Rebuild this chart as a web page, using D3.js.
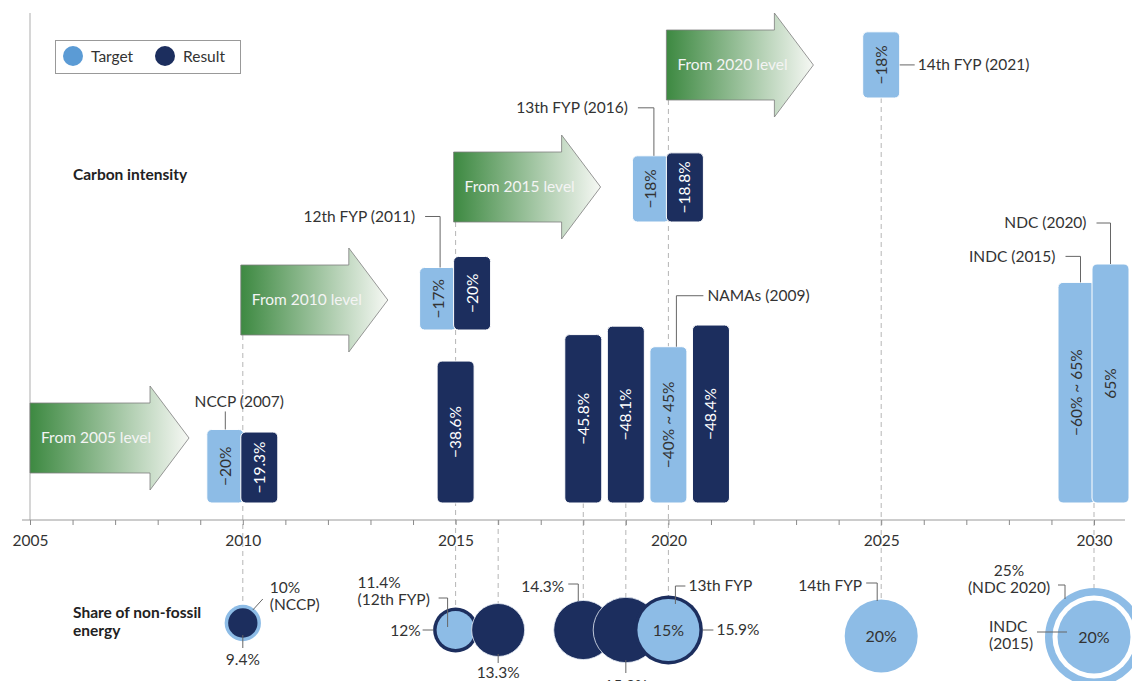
<!DOCTYPE html>
<html>
<head>
<meta charset="utf-8">
<script src="https://cdn.jsdelivr.net/npm/d3@7"></script>
<style>
  body { margin: 0; background: #fff; }
  text { font-family: Lato, "Open Sans", sans-serif; }
</style>
</head>
<body>
<script>
// --- carbon intensity bars ---
var ciYears  = [2010, 2010, 2015, 2015, 2015, 2018, 2019, 2020, 2021, 2020, 2020, 2025, 2030, 2030];
var ciSides  = ['left', 'right', 'left', 'right', 'mid', 'mid', 'mid', 'mid', 'mid', 'left', 'right', 'mid', 'left', 'right'];
var ciTiers  = [0, 0, 1, 1, 0, 0, 0, 0, 0, 2, 2, 3, 0, 0];
var ciTypes  = ['target', 'result', 'target', 'result', 'result', 'result', 'result', 'target', 'result', 'target', 'result', 'target', 'target', 'target'];
var ciValues = [20, 19.3, 17, 20, 38.6, 45.8, 48.1, 42.5, 48.4, 18, 18.8, 18, 60, 65];
var ciLabels = ['\u221220%', '\u221219.3%', '\u221217%', '\u221220%', '\u221238.6%', '\u221245.8%', '\u221248.1%', '\u221240% ~ 45%', '\u221248.4%', '\u221218%', '\u221218.8%', '\u221218%', '\u221260% ~ 65%', '65%'];

// policy names attached to bars
var noteBars  = [0, 2, 9, 11, 7, 12, 13];
var noteTexts = ['NCCP (2007)', '12th FYP (2011)', '13th FYP (2016)', '14th FYP (2021)', 'NAMAs (2009)', 'INDC (2015)', 'NDC (2020)'];

// "from ... level" arrows
var arrowYears  = [2005, 2010, 2015, 2020];
var arrowLabels = ['From 2005 level', 'From 2010 level', 'From 2015 level', 'From 2020 level'];

// --- share of non-fossil energy (%) ---
var nfYears  = [2010, 2010, 2015, 2015, 2016, 2018, 2019, 2020, 2020, 2025, 2030, 2030];
var nfValues = [10, 9.4, 12, 11.4, 13.3, 14.3, 15.3, 15.9, 15, 20, 25, 20];
var nfTypes  = ['target', 'result', 'result', 'target', 'result', 'result', 'result', 'result', 'target', 'target', 'target', 'target'];
var nfInside = ['', '', '', '', '', '', '', '', '15%', '20%', '', '20%'];

var W = 1132, H = 681;
var navy = '#1c2e5e', light = '#8dbce6', legendBlue = '#5b9bd5', ink = '#333';
var fs = '15.5px';

var svg = d3.select('body').append('svg').attr('width', W).attr('height', H);

var defs = svg.append('defs');
var grad = defs.append('linearGradient').attr('id', 'arrowGrad');
grad.append('stop').attr('offset', '0%').attr('stop-color', '#3d8941');
grad.append('stop').attr('offset', '100%').attr('stop-color', '#f6f8f4');

// scales
var x = d3.scaleLinear().domain([2005, 2030]).range([30, 1094]);
var h = d3.scaleLinear().domain([0, 65]).range([0, 239]);
var r = d3.scaleLinear().domain([9, 12, 15.9, 20, 25]).range([16, 22.5, 34.5, 36.5, 49]);

var axisY = 520;
var tierBase = [503, 330, 222, 98];
var arrowBottom = [473, 335, 222, 100];
var arrowLen = [120, 108, 108, 108];
var barW = 37;
var rowY = function(yr) { return yr === 2010 ? 623 : yr === 2025 ? 636 : yr === 2030 ? 637 : 630; };

// build bar rows
var bars = ciValues.map(function(v, i) {
  var cx = x(ciYears[i]);
  var x0 = ciSides[i] === 'left' ? cx - 36 : ciSides[i] === 'right' ? cx - 2 : cx - barW / 2;
  var base = tierBase[ciTiers[i]];
  return {x0: x0, x1: x0 + barW, top: base - h(v), bottom: base, type: ciTypes[i], label: ciLabels[i]};
});

// circle groups
var groups = d3.groups(nfValues.map(function(v, i) {
  return {year: nfYears[i], value: v, type: nfTypes[i], inside: nfInside[i]};
}), function(d) { return d.year; });

groups.forEach(function(g) {
  var items = g[1];
  items.sort(function(a, b) { return b.value - a.value; });
  items[0].r = r(items[0].value);
  if (items[1]) items[1].r = Math.min(r(items[1].value), items[0].r - 3.5);
  g.cx = x(g[0]);
  g.cy = rowY(g[0]);
  g.rMax = items[0].r;
});

// vertical axis line
svg.append('line').attr('x1', 30).attr('x2', 30).attr('y1', 13).attr('y2', axisY)
  .attr('stroke', '#c8c8c8').attr('stroke-width', 1.5);

// dashed guides
var guideYears = [2010, 2015, 2016, 2018, 2019, 2020, 2025, 2030];
guideYears.forEach(function(yr) {
  var ai = arrowYears.indexOf(yr);
  var hasBar = ciYears.indexOf(yr) >= 0;
  var top = hasBar ? 503 : axisY;
  if (ai >= 0) top = arrowBottom[ai];
  else {
    bars.forEach(function(b, i) { if (ciYears[i] === yr && ciTiers[i] > 0) top = Math.min(top, b.bottom); });
  }
  var g = groups.find(function(d) { return d[0] === yr; });
  svg.append('line').attr('x1', x(yr)).attr('x2', x(yr)).attr('y1', top).attr('y2', g ? g.cy - g.rMax + 2 : axisY)
    .attr('stroke', '#b5b5b5').attr('stroke-dasharray', '5,4').attr('stroke-width', 1);
});

// axis
svg.append('line').attr('x1', 22).attr('x2', 1125).attr('y1', axisY).attr('y2', axisY)
  .attr('stroke', '#9a9a9a').attr('stroke-width', 1);
var axis = svg.append('g').attr('transform', 'translate(0,' + axisY + ')')
  .call(d3.axisBottom(x).tickValues(d3.range(2005, 2031)).tickSize(5)
    .tickFormat(function(d) { return d % 5 === 0 ? d : ''; }));
axis.select('.domain').remove();
axis.selectAll('line').attr('stroke', '#8a8a8a');
axis.selectAll('text').attr('y', 15).attr('fill', ink).style('font-size', fs).style('font-family', 'Lato, sans-serif');

// arrows
arrowYears.forEach(function(yr, i) {
  var x0 = x(yr) - (i === 0 ? 0 : 2), yb = arrowBottom[i], yt = yb - 70, yc = yb - 35, L = arrowLen[i];
  var p = d3.path();
  p.moveTo(x0, yt); p.lineTo(x0 + L, yt); p.lineTo(x0 + L, yt - 17); p.lineTo(x0 + L + 39, yc);
  p.lineTo(x0 + L, yb + 17); p.lineTo(x0 + L, yb); p.lineTo(x0, yb); p.closePath();
  svg.append('path').attr('d', p.toString()).attr('fill', 'url(#arrowGrad)')
    .attr('stroke', '#7d7d7d').attr('stroke-width', 0.8);
  svg.append('text').attr('x', x0 + 11).attr('y', yc).attr('dy', '0.35em')
    .attr('fill', '#f4f4f4').style('font-size', fs).text(arrowLabels[i]);
});

// bars
var barG = svg.append('g');
bars.forEach(function(b) {
  barG.append('rect').attr('x', b.x0).attr('y', b.top).attr('width', barW).attr('height', b.bottom - b.top)
    .attr('rx', 5).attr('fill', b.type === 'target' ? light : navy)
    .attr('stroke', '#fff').attr('stroke-width', 1);
  var cx = (b.x0 + b.x1) / 2, cy = (b.top + b.bottom) / 2;
  barG.append('text').attr('transform', 'translate(' + cx + ',' + cy + ') rotate(-90)')
    .attr('text-anchor', 'middle').attr('dy', '0.35em')
    .attr('fill', b.type === 'target' ? ink : '#fff').style('font-size', fs).text(b.label);
});

// bar notes
var noteKinds = ['up', 'left', 'left', 'side', 'right', 'left', 'left'];
var noteDx    = [0, 2, 3, 0, 8, 4, 0];
var noteRise  = [18, 51, 48, 0, 51, 26, 41];
var noteLen   = [0, 15, 16, 15, 27, 15, 14];
noteBars.forEach(function(bi, i) {
  var b = bars[bi], lx = (b.x0 + b.x1) / 2 + noteDx[i], k = noteKinds[i];
  var pts, tx, ty, anchor;
  if (k === 'side') {
    ty = (b.top + b.bottom) / 2;
    pts = [[b.x1, ty], [b.x1 + noteLen[i], ty]];
    tx = b.x1 + noteLen[i] + 3; anchor = 'start';
  } else {
    var yTop = b.top - noteRise[i];
    pts = [[lx, b.top], [lx, yTop]];
    if (k === 'up') { tx = lx + 14; ty = yTop - 10; anchor = 'middle'; }
    else if (k === 'left') { pts.push([lx - noteLen[i], yTop]); tx = lx - noteLen[i] - 10; ty = yTop; anchor = 'end'; }
    else { pts.push([lx + noteLen[i], yTop]); tx = lx + noteLen[i] + 4; ty = yTop; anchor = 'start'; }
  }
  svg.append('path').attr('d', d3.line()(pts)).attr('fill', 'none').attr('stroke', '#666').attr('stroke-width', 1);
  svg.append('text').attr('x', tx).attr('y', ty).attr('dy', '0.35em').attr('text-anchor', anchor)
    .attr('fill', ink).style('font-size', fs).text(noteTexts[i]);
});

// circles
groups.forEach(function(g) {
  var items = g[1];
  items.forEach(function(d, j) {
    if (j === 1 && items[0].type === d.type) {
      svg.append('circle').attr('cx', g.cx).attr('cy', g.cy).attr('r', d.r + 5).attr('fill', '#fff');
    }
    svg.append('circle').attr('cx', g.cx).attr('cy', g.cy).attr('r', d.r)
      .attr('fill', d.type === 'target' ? light : navy)
      .attr('stroke', items.length === 1 && d.type === 'result' ? '#e6ecf5' : 'none').attr('stroke-width', 0.8);
    if (d.inside) {
      svg.append('text').attr('x', g.cx).attr('y', g.cy).attr('dy', '0.35em').attr('text-anchor', 'middle')
        .attr('fill', ink).style('font-size', '16px').text(d.inside);
    }
  });
});

// circle notes (offsets from circle centre)
var circleNotes = [
  {year: 2010, lines: ['10%', '(NCCP)'], pts: [[10, -13], [20, -24]], tx: 27, ty: -35, anchor: 'start'},
  {year: 2010, lines: ['9.4%'], pts: [[0, 12], [0, 25]], tx: 0, ty: 37, anchor: 'middle'},
  {year: 2015, lines: ['11.4%', '(12th FYP)'], pts: [[-8, -3], [-8, -32], [-17, -32]], tx: -98, ty: -47, anchor: 'start'},
  {year: 2015, lines: ['12%'], pts: [[-33, 0], [-22, 0]], tx: -35, ty: 1, anchor: 'end'},
  {year: 2016, lines: ['13.3%'], pts: [[0, 24], [0, 33]], tx: 0, ty: 43, anchor: 'middle'},
  {year: 2018, lines: ['14.3%'], pts: [[-5, -29], [-5, -46], [-15, -46]], tx: -19, ty: -43, anchor: 'end'},
  {year: 2019, lines: ['15.3%'], pts: [[0, 30], [0, 43]], tx: 0, ty: 56, anchor: 'middle'},
  {year: 2020, lines: ['13th FYP'], pts: [[7, -26], [7, -44], [17, -44]], tx: 20, ty: -44, anchor: 'start'},
  {year: 2020, lines: ['15.9%'], pts: [[34, 0], [45, 0]], tx: 48, ty: 0, anchor: 'start'},
  {year: 2025, lines: ['14th FYP'], pts: [[-4, -35], [-4, -53], [-15, -53]], tx: -19, ty: -50, anchor: 'end'},
  {year: 2030, lines: ['25%', '(NDC 2020)'], pts: [[-29, -38], [-29, -52], [-36, -52]], tx: -85, ty: -66, anchor: 'middle'},
  {year: 2030, lines: ['INDC', '(2015)'], pts: [[-57, -5], [-27, -5]], tx: -105, ty: -10, anchor: 'start'}
];
circleNotes.forEach(function(n) {
  var g = groups.find(function(d) { return d[0] === n.year; });
  var pts = n.pts.map(function(p) { return [g.cx + p[0], g.cy + p[1]]; });
  svg.append('path').attr('d', d3.line()(pts)).attr('fill', 'none').attr('stroke', '#666').attr('stroke-width', 1);
  n.lines.forEach(function(s, k) {
    svg.append('text').attr('x', g.cx + n.tx).attr('y', g.cy + n.ty + k * 16.5).attr('dy', '0.35em')
      .attr('text-anchor', n.anchor).attr('fill', ink).style('font-size', fs).text(s);
  });
});

// section titles
svg.append('text').attr('x', 73).attr('y', 175).attr('dy', '0.35em').attr('fill', '#222')
  .style('font-size', fs).style('font-weight', 'bold').text('Carbon intensity');
svg.append('text').attr('x', 73).attr('y', 613).attr('dy', '0.35em').attr('fill', '#222')
  .style('font-size', fs).style('font-weight', 'bold').text('Share of non-fossil');
svg.append('text').attr('x', 73).attr('y', 631).attr('dy', '0.35em').attr('fill', '#222')
  .style('font-size', fs).style('font-weight', 'bold').text('energy');

// legend
var leg = svg.append('g');
leg.append('rect').attr('x', 55.5).attr('y', 40.5).attr('width', 185).attr('height', 33)
  .attr('fill', '#fff').attr('stroke', '#999');
[['Target', legendBlue, 73], ['Result', navy, 165]].forEach(function(d) {
  leg.append('circle').attr('cx', d[2]).attr('cy', 56).attr('r', 10).attr('fill', d[1]);
  leg.append('text').attr('x', d[2] + 18).attr('y', 57).attr('dy', '0.35em').attr('fill', ink)
    .style('font-size', fs).text(d[0]);
});
</script>
</body>
</html>
